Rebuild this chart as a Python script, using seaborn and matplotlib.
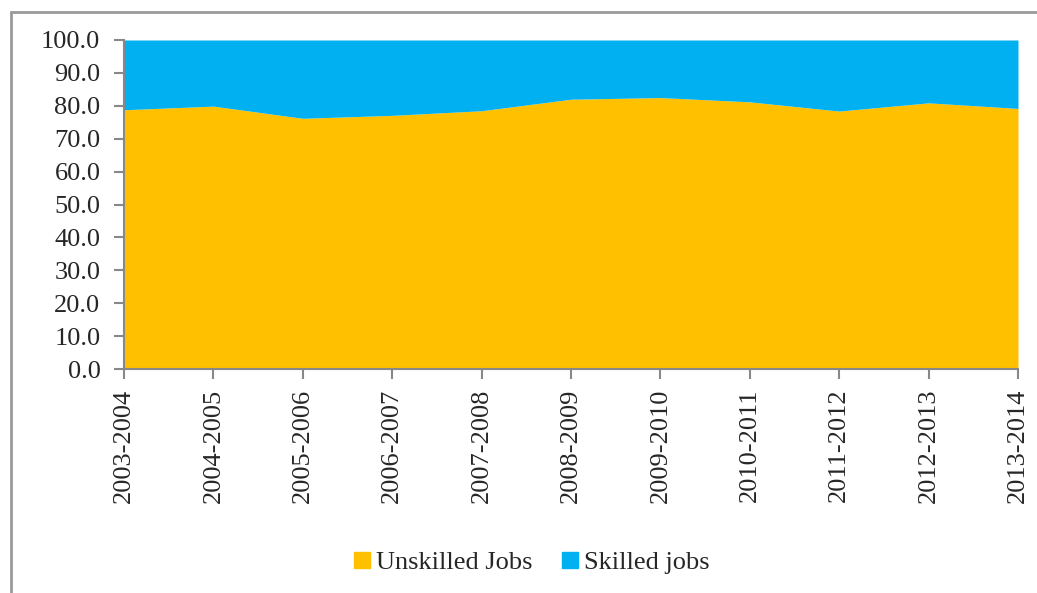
import matplotlib
matplotlib.use("Agg")
import matplotlib.pyplot as plt
import matplotlib.patches as mpatches
import matplotlib.lines as mlines
import seaborn as sns
import numpy as np

years = ["2003-2004", "2004-2005", "2005-2006", "2006-2007", "2007-2008",
         "2008-2009", "2009-2010", "2010-2011", "2011-2012", "2012-2013", "2013-2014"]
unskilled = [78.8, 79.9, 76.2, 77.1, 78.5, 82.0, 82.5, 81.2, 78.4, 80.9, 79.2]
skilled = [100 - u for u in unskilled]
yticks = [0, 10, 20, 30, 40, 50, 60, 70, 80, 90, 100]

sns.set_style("white")
plt.rcParams['font.family'] = ['Liberation Serif', 'DejaVu Serif']

fig = plt.figure(figsize=(10.37, 5.93), dpi=100)
ax = fig.add_axes([124/1037, 1 - 369/593, (1018-124)/1037, (369-40)/593])

x = np.arange(len(years))
ax.stackplot(x, unskilled, skilled, colors=["#FFC000", "#00B0F0"],
             labels=["Unskilled Jobs", "Skilled jobs"], linewidth=0)

ax.set_xlim(0, len(years) - 1)
ax.set_ylim(0, 100)
ax.set_xticks(x)
ax.set_xticklabels(years, rotation=90, fontsize=19)
ax.set_yticks(yticks)
ax.set_yticklabels([f"{v:.1f}" for v in yticks], fontsize=19)

for s in ["top", "right"]:
    ax.spines[s].set_visible(False)
for s in ["left", "bottom"]:
    ax.spines[s].set_color("#888888")
    ax.spines[s].set_linewidth(1.5)
ax.tick_params(axis="both", which="major", direction="out", length=7, width=1.5,
               color="#888888", left=True, bottom=True)
ax.tick_params(axis="x", pad=7)
ax.tick_params(axis="y", pad=10)

handles = [mpatches.Patch(color="#FFC000", label="Unskilled Jobs"),
           mpatches.Patch(color="#00B0F0", label="Skilled jobs")]
fig.legend(handles=handles, loc="center", bbox_to_anchor=(532/1037, 1 - 563/593),
           ncol=2, frameon=False, fontsize=19, handlelength=0.6, handleheight=0.6,
           handletextpad=0.25, columnspacing=1.1)

# outer chart border (left and top visible)
fig.add_artist(mlines.Line2D([11/1037, 11/1037], [0, 1 - 12/593], color="#999999", lw=2,
                             transform=fig.transFigure))
fig.add_artist(mlines.Line2D([11/1037, 1], [1 - 12/593, 1 - 12/593], color="#999999", lw=2,
                             transform=fig.transFigure))

fig.savefig("out.png", dpi=100)
